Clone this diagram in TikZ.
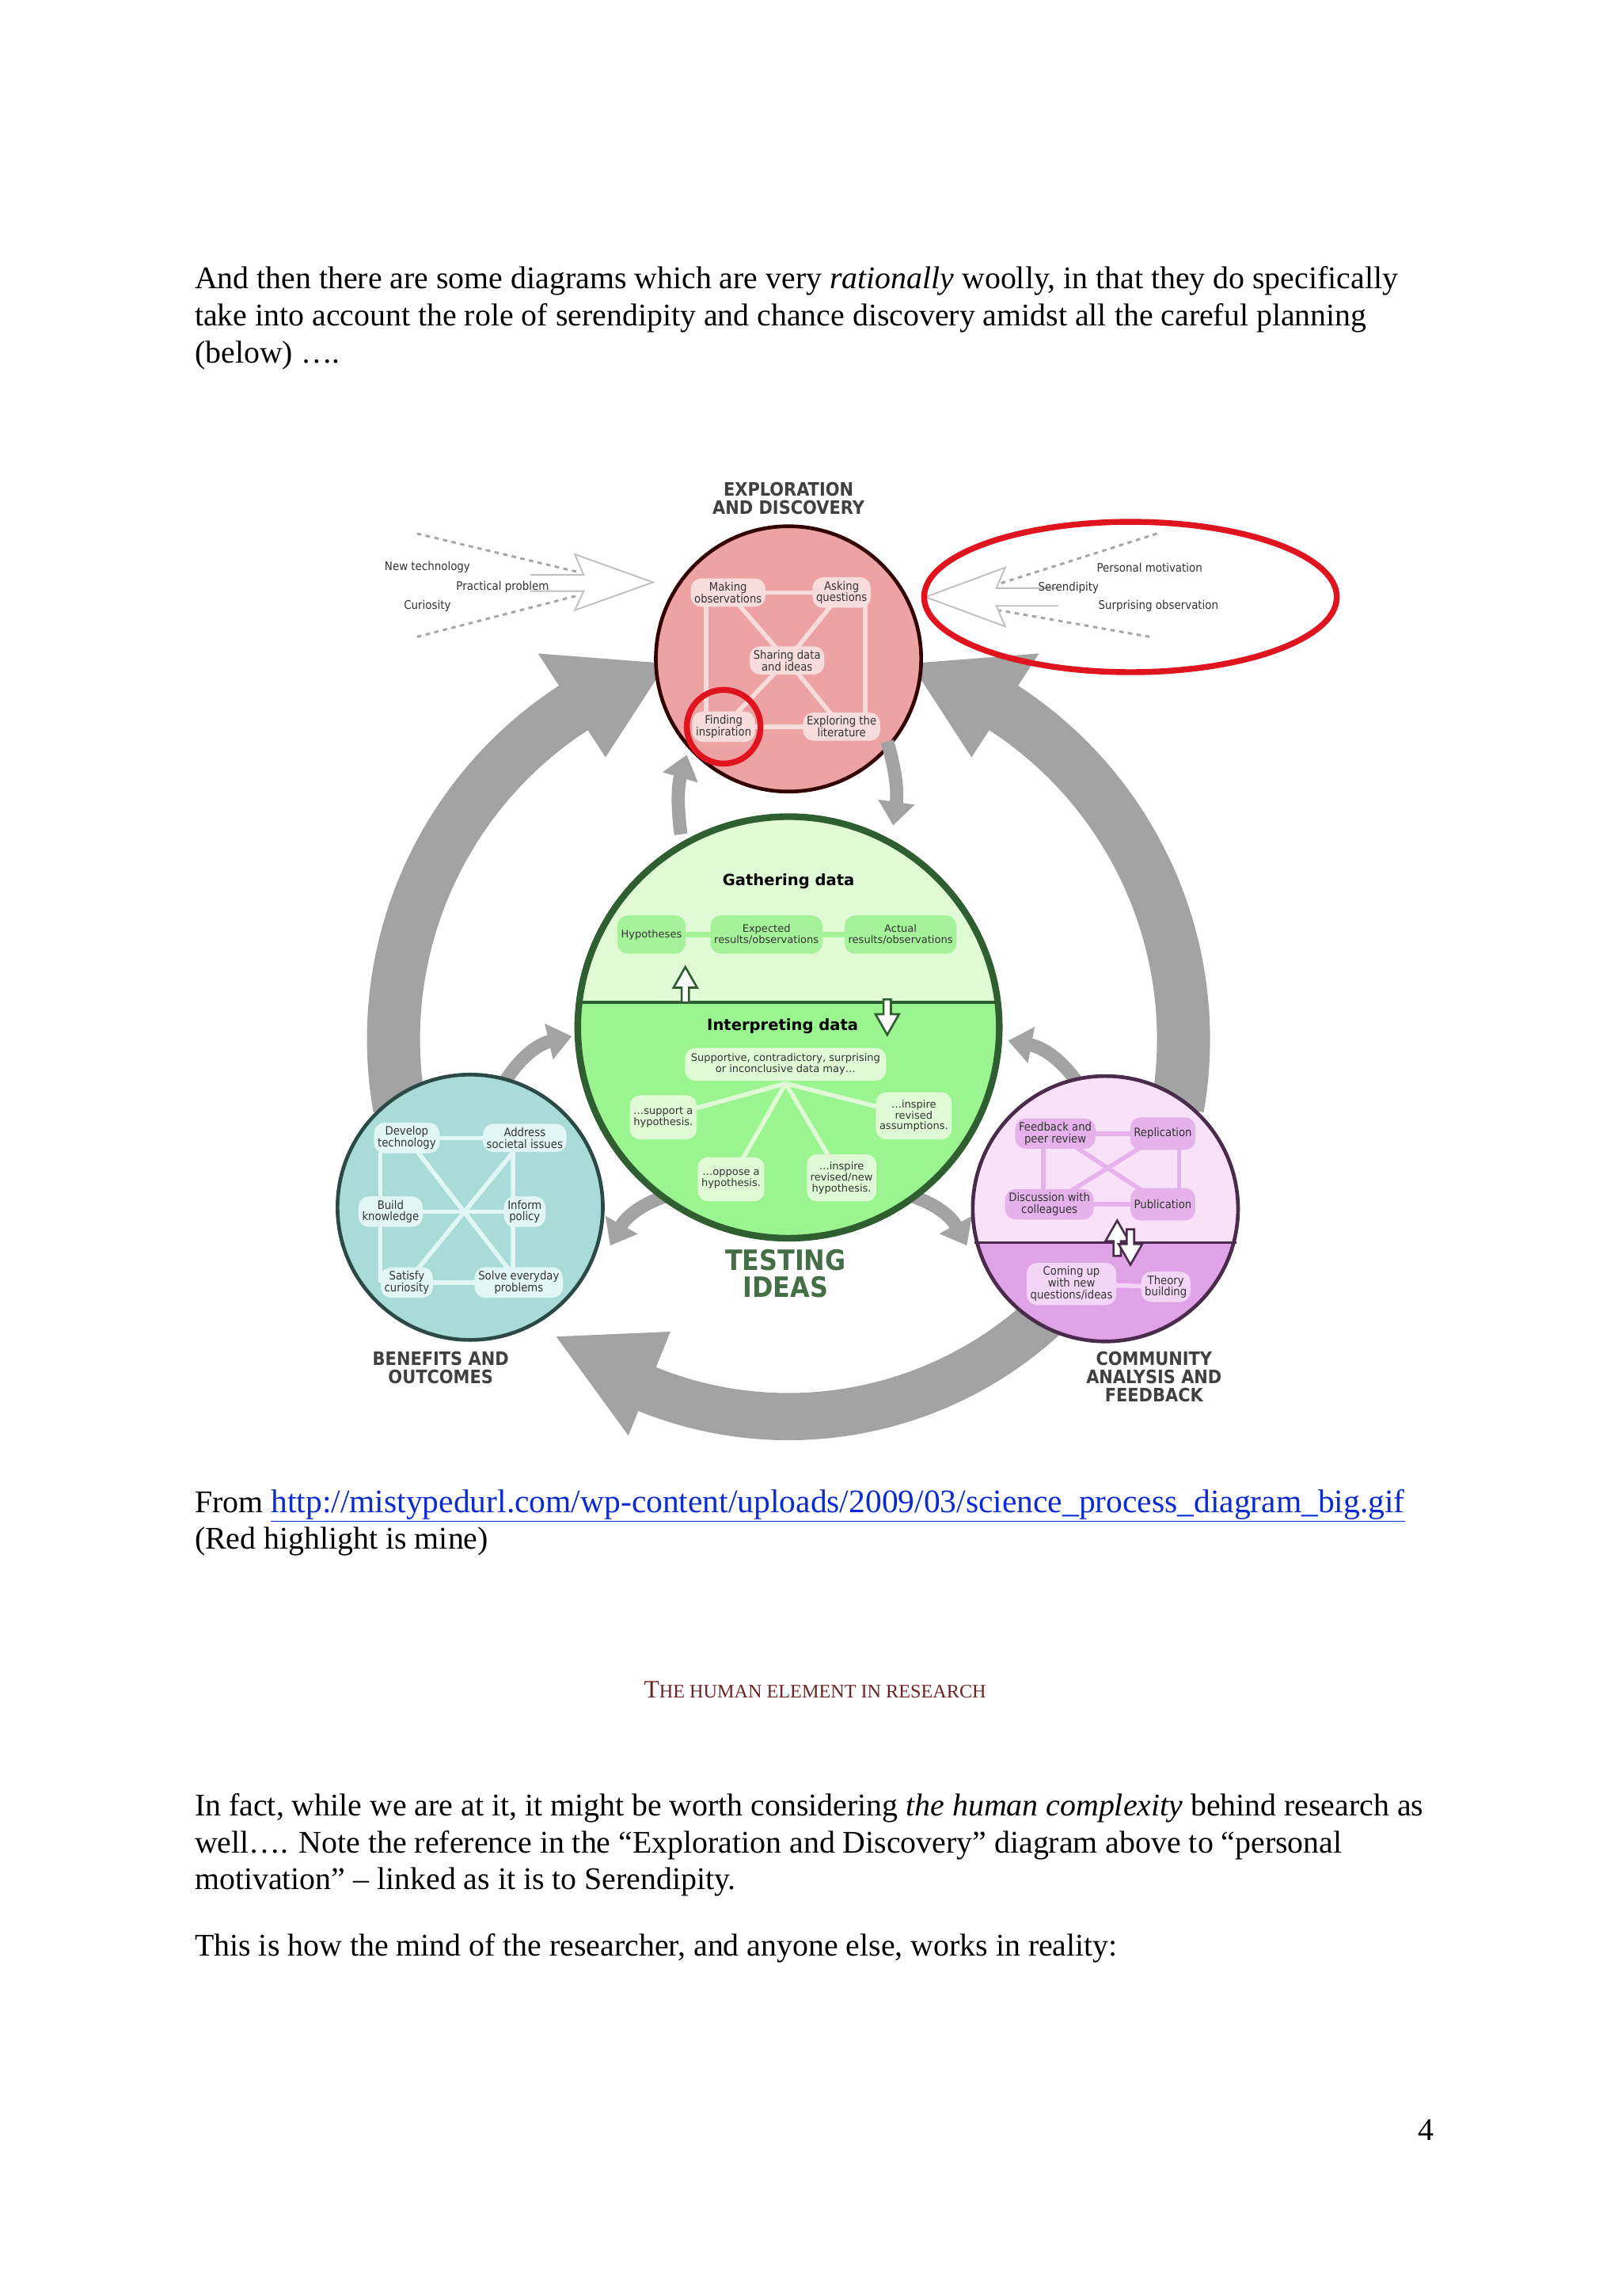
\documentclass[tikz,border=0pt]{standalone}
\usepackage{fontspec}
\setmainfont{Liberation Serif}
\newfontfamily\dsc{DejaVu Sans Condensed}
\newfontfamily\dsv{DejaVu Sans}
\usetikzlibrary{arrows.meta,calc}
\definecolor{arrgray}{HTML}{A3A3A3}
\definecolor{redfill}{HTML}{EDA3A3}
\definecolor{redpill}{HTML}{F7DCDC}
\definecolor{gtop}{HTML}{DFFAD5}
\definecolor{gbot}{HTML}{9AF590}
\definecolor{gpill}{HTML}{A6F29A}
\definecolor{gdark}{HTML}{2F5E30}
\definecolor{tfill}{HTML}{A9DCD9}
\definecolor{tpill}{HTML}{E2F7F5}
\definecolor{tdark}{HTML}{2B4A45}
\definecolor{ptop}{HTML}{F9E1F9}
\definecolor{pbot}{HTML}{E0A3E8}
\definecolor{ppill}{HTML}{E6B2EC}
\definecolor{ppill2}{HTML}{F3D6F6}
\definecolor{pdark}{HTML}{4B2B4B}
\definecolor{hlred}{HTML}{E0141E}
\definecolor{headred}{HTML}{6B2424}
\definecolor{linkblue}{HTML}{0B2BD0}
\tikzset{
  body/.style={anchor=base west,inner sep=0pt,font=\fontsize{21.4}{25}\selectfont},
  pill/.style={rounded corners=7pt,inner sep=2.5pt,align=center,font=\dsc\fontsize{7.9}{8}\selectfont,text=black!80},
  rpill/.style={pill,fill=redpill},
  gpillst/.style={pill,fill=gpill,font=\dsv\fontsize{7}{7.4}\selectfont},
  gsub/.style={pill,fill=gtop,font=\dsv\fontsize{7}{7.4}\selectfont},
  tpillst/.style={pill,fill=tpill},
  ppillst/.style={pill,fill=ppill},
  ppill2st/.style={pill,fill=ppill2},
  title/.style={align=center,font=\dsc\bfseries\fontsize{12.5}{12.5}\selectfont,text=black!75},
  link/.style={line width=3pt},
  smallarr/.style={arrgray,line width=9pt,-{Triangle[length=16pt,width=24pt]}},
  inarrow/.style={draw=black!25,line width=1pt,fill=white},
  dotl/.style={black!35,line width=1.6pt,dash pattern=on 3pt off 3pt},
  lab/.style={font=\dsc\fontsize{8}{8}\selectfont,text=black!80},
}
\newcommand\hup[4]{\filldraw[draw=#3,fill=white,line width=1.4pt] ({#1-2.5},{#2})--({#1-2.5},{#2-10})--({#1-8},{#2-10})--({#1},{#2-#4})--({#1+8},{#2-10})--({#1+2.5},{#2-10})--({#1+2.5},{#2})--cycle;}
\newcommand\hdown[4]{\filldraw[draw=#3,fill=white,line width=1.4pt] ({#1-2.5},{#2})--({#1-2.5},{#2+10})--({#1-8},{#2+10})--({#1},{#2+#4})--({#1+8},{#2+10})--({#1+2.5},{#2+10})--({#1+2.5},{#2})--cycle;}
\begin{document}
\begin{tikzpicture}[x=1pt,y=-1pt]
\useasboundingbox[fill=white] (0,0) rectangle (1100,1557.6);
% ---------- body text
\node[body] (p1) at (132,196) {And then there are some diagrams which are very \textit{rationally} woolly, in that they do specifically};
\node[body] (p2) at (132,221) {take into account the role of serendipity and chance discovery amidst all the careful planning};
\node[body] (p3) at (132,246) {(below) \dots.};
\node[body] (f1) at (132,1026) {From \textcolor{linkblue}{\underline{\fontsize{22.3}{25}\selectfont http://mistypedurl.com/wp-content/uploads/2009/03/science\_process\_diagram\_big.gif}}};
\node[body] (f2) at (132,1051) {(Red highlight is mine)};
\node[anchor=base,inner sep=0pt,text=headred] (hd) at (553,1152) {\fontsize{17}{17}\selectfont T\fontsize{13}{13}\selectfont HE HUMAN ELEMENT IN RESEARCH};
\node[body] (q1) at (132,1232) {In fact, while we are at it, it might be worth considering \textit{the human complexity} behind research as};
\node[body] (q2) at (132,1257) {well\dots. Note the reference in the “Exploration and Discovery” diagram above to “personal};
\node[body] (q3) at (132,1282) {motivation” – linked as it is to Serendipity.};
\node[body] (q4) at (132,1327) {This is how the mind of the researcher, and anyone else, works in reality:};
\node[body] (pg) at (962,1452) {4};
% ---------- big grey arrows
\coordinate (C) at (535,705);
\draw[arrgray,line width=36pt] ($(C)+(170:268)$) arc[start angle=170,end angle=238,radius=268];
\fill[arrgray] ($(C)+(237:228)$) -- ($(C)+(252:268)$) -- ($(C)+(237:312)$) -- cycle;
\draw[arrgray,line width=36pt] ($(C)+(10:268)$) arc[start angle=10,end angle=-58,radius=268];
\fill[arrgray] ($(C)+(-57:228)$) -- ($(C)+(-72:268)$) -- ($(C)+(-57:312)$) -- cycle;
\draw[arrgray,line width=32pt] ($(C)+(35:256)$) arc[start angle=35,end angle=113,radius=256];
\fill[arrgray] ($(C)+(112:214)$) -- ($(C)+(128:256)$) -- ($(C)+(112:290)$) -- cycle;
% ---------- circles
\node[circle,minimum size=180pt,draw=black!80!red,line width=2.5pt,fill=redfill] (R) at (535,447) {};
\node[circle,minimum size=180pt] (T) at (319,819) {};
\node[circle,minimum size=180pt] (P) at (750,820) {};
\node[circle,minimum size=286pt] (G) at (535,697) {};
% small grey arrows
\draw[smallarr] (462,566) to[bend left=12] (466,512);
\draw[smallarr] (602,503) to[bend left=12] (606,560);
\draw[smallarr] (338,742) to[bend left=25] (388,703);
\draw[smallarr] (737,744) to[bend right=25] (684,706);
\draw[smallarr] (465,808) to[bend right=25] (414,845);
\draw[smallarr] (606,808) to[bend left=25] (656,845);
% green circle
\begin{scope}
\clip (535,697) circle[radius=143];
\fill[gtop] (380,540) rectangle (690,680);
\fill[gbot] (380,680) rectangle (690,850);
\end{scope}
\draw[gdark,line width=2pt] (393,680) -- (677,680);
\draw[gdark,line width=4.5pt] (G.center) circle[radius=143];
% teal circle
\fill[tfill] (T.center) circle[radius=90];
\draw[tdark,line width=2.5pt] (T.center) circle[radius=90];
% purple circle
\begin{scope}
\clip (750,820) circle[radius=90];
\fill[ptop] (655,725) rectangle (845,843);
\fill[pbot] (655,843) rectangle (845,915);
\end{scope}
\draw[pdark,line width=2pt] (661,843) -- (839,843);
\draw[pdark,line width=2.5pt] (P.center) circle[radius=90];
% ---------- titles
\node[title] (tE) at (535,338) {EXPLORATION\\AND DISCOVERY};
\node[title] (tB) at (299,928) {BENEFITS AND\\OUTCOMES};
\node[title] (tC) at (783,934) {COMMUNITY\\ANALYSIS AND\\FEEDBACK};
\node[align=center,text=gdark!90,font=\dsc\bfseries\fontsize{19}{18}\selectfont] (tT) at (533,864) {TESTING\\IDEAS};
% ---------- red circle contents
\coordinate (mo0) at (494,402); \coordinate (aq0) at (571,402);
\coordinate (sd0) at (534,448); \coordinate (fi0) at (491,493); \coordinate (el0) at (571,493);
\draw[redpill,link] (mo0) -- (aq0); \draw[redpill,link] (fi0) -- (el0);
\draw[redpill,link] (mo0) -- (sd0); \draw[redpill,link] (aq0) -- (sd0);
\draw[redpill,link] (sd0) -- (fi0); \draw[redpill,link] (sd0) -- (el0);
\draw[redpill,link] (479,402) -- (479,493);
\draw[redpill,link] (587,402) -- (587,493);
\node[rpill] (mo) at (mo0) {Making\\observations};
\node[rpill] (aq) at (aq0) {Asking\\questions};
\node[rpill] (sd) at (sd0) {Sharing data\\and ideas};
\node[rpill] (fi) at (fi0) {Finding\\inspiration};
\node[rpill] (el) at (el0) {Exploring the\\literature};
% ---------- green contents
\node[font=\dsv\bfseries\fontsize{10.5}{10}\selectfont] (gd) at (535,598) {Gathering data};
\coordinate (hy0) at (442,634); \coordinate (ex0) at (520,634); \coordinate (ac0) at (611,634);
\draw[gpill,line width=4pt] (hy0) -- (ex0) -- (ac0);
\node[gpillst,minimum height=26pt] (hy) at (hy0) {Hypotheses};
\node[gpillst,minimum height=26pt] (ex) at (ex0) {Expected\\results/observations};
\node[gpillst,minimum height=26pt] (ac) at (ac0) {Actual\\results/observations};
\hup{465}{680}{gdark}{24}
\hdown{602}{678}{gdark}{24}
\node[font=\dsv\bfseries\fontsize{10.5}{10}\selectfont] (id) at (531,696) {Interpreting data};
\coordinate (hub) at (533,735);
\coordinate (s10) at (450,758); \coordinate (s20) at (620,757);
\coordinate (s30) at (496,800); \coordinate (s40) at (571,799);
\foreach \n in {s10,s20,s30,s40} \draw[gtop,link] (hub) -- (\n);
\node[gsub,inner sep=4pt] (sp) at (533,722) {Supportive, contradictory, surprising\\or inconclusive data may\dots};
\node[gsub,minimum height=30pt] (s1) at (s10) {\dots support a\\hypothesis.};
\node[gsub,minimum height=32pt] (s2) at (s20) {\dots inspire\\revised\\assumptions.};
\node[gsub,minimum height=30pt] (s3) at (s30) {\dots oppose a\\hypothesis.};
\node[gsub,minimum height=32pt] (s4) at (s40) {\dots inspire\\revised/new\\hypothesis.};
% ---------- teal contents
\coordinate (dt) at (276,772); \coordinate (as) at (356,772);
\coordinate (bk) at (265,822); \coordinate (ip) at (356,822);
\coordinate (sc) at (276,870); \coordinate (se) at (352,870);
\draw[tpill,link] (dt)--(as); \draw[tpill,link] (bk)--(ip); \draw[tpill,link] (sc)--(se);
\draw[tpill,link] (258,772)--(258,870); \draw[tpill,link] (348,772)--(348,870);
\draw[tpill,link] (dt)--(se); \draw[tpill,link] (as)--(sc);
\node[tpillst] (ndt) at (dt) {Develop\\technology};
\node[tpillst] (nas) at (as) {Address\\societal issues};
\node[tpillst] (nbk) at (bk) {Build\\knowledge};
\node[tpillst] (nip) at (ip) {Inform\\policy};
\node[tpillst] (nsc) at (sc) {Satisfy\\curiosity};
\node[tpillst] (nse) at (se) {Solve everyday\\problems};
% ---------- purple contents
\coordinate (fb) at (716,769); \coordinate (rp) at (789,769);
\coordinate (dc) at (712,817); \coordinate (pb) at (789,817);
\draw[ppill,link] (fb)--(rp); \draw[ppill,link] (dc)--(pb);
\draw[ppill,link] (708,769)--(708,817); \draw[ppill,link] (800,769)--(800,817);
\draw[ppill,link] (fb)--(pb); \draw[ppill,link] (rp)--(dc);
\node[ppillst] (nfb) at (fb) {Feedback and\\peer review};
\node[ppillst,minimum height=22pt] (nrp) at (rp) {Replication};
\node[ppillst] (ndc) at (dc) {Discussion with\\colleagues};
\node[ppillst,minimum height=22pt] (npb) at (pb) {Publication};
\coordinate (cq) at (727,871); \coordinate (tb) at (791,873);
\draw[ppill2,link] (cq)--(tb);
\node[ppill2st] (ncq) at (cq) {Coming up\\with new\\questions/ideas};
\node[ppill2st] (ntb) at (tb) {Theory\\building};
\hup{758}{852}{pdark}{24}
\hdown{767}{834}{pdark}{24}
% ---------- input arrows
\draw[dotl] (283,362) -- (392,388);
\draw[dotl] (283,432) -- (392,404);
\filldraw[inarrow] (360,390) -- (396,390) -- (390,376) -- (443,395) -- (390,414) -- (396,401) -- (360,401);
\node[lab] (nt) at (290,385) {New technology};
\node[lab] (pp) at (341,398) {Practical problem};
\node[lab] (cu) at (290,411) {Curiosity};
\draw[dotl] (785,362) -- (678,396);
\draw[dotl] (780,432) -- (678,414);
\filldraw[inarrow] (718,399) -- (676,399) -- (682,385) -- (628,405) -- (682,425) -- (676,411) -- (718,411);
\node[lab] (pm) at (780,385) {Personal motivation};
\node[lab] (sr) at (725,399) {Serendipity};
\node[lab] (so) at (786,411) {Surprising observation};
% ---------- red highlights
\draw[hlred,line width=4pt] (fi.center) circle[radius=25];
\draw[hlred,line width=4pt] (767,405) ellipse[x radius=140,y radius=51];
\end{tikzpicture}
\end{document}
